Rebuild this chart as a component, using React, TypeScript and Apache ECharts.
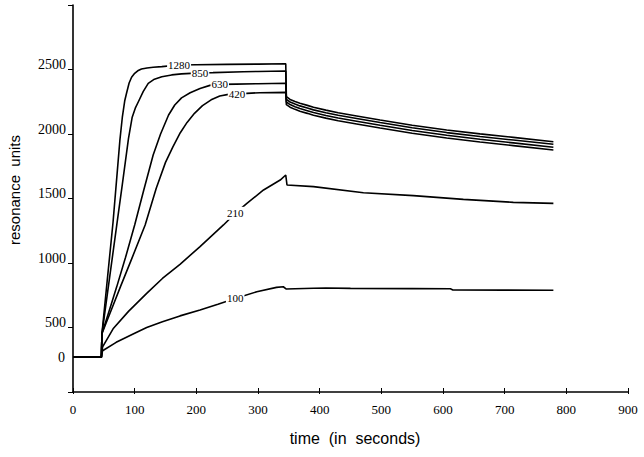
import React, { useEffect, useRef } from 'react';
import * as echarts from 'echarts';

// Baseline (before injection)
const T_BASE = [0, 46];
const V_BASE = [270, 270];

// Association phase
const T_1280 = [47, 55, 65, 72, 76, 80, 84, 87, 91, 95, 100, 105, 111, 120, 130, 144, 172, 200, 250, 300, 345];
const V_1280 = [454, 840, 1320, 1720, 1950, 2130, 2260, 2320, 2395, 2440, 2470, 2490, 2504, 2512, 2518, 2522, 2535, 2537, 2540, 2542, 2544];

const T_850 = [47, 60, 71, 80, 90, 96, 101, 106, 114, 122, 132, 144, 160, 176, 206, 227, 276, 300, 345];
const V_850 = [454, 910, 1295, 1610, 1966, 2130, 2200, 2250, 2330, 2393, 2425, 2444, 2458, 2466, 2474, 2476, 2483, 2485, 2488];

const T_630 = [47, 60, 71, 85, 100, 115, 130, 142, 155, 165, 176, 190, 206, 222, 238, 265, 300, 345];
const V_630 = [454, 650, 817, 1040, 1295, 1570, 1837, 2000, 2147, 2225, 2280, 2320, 2353, 2377, 2385, 2387, 2390, 2393];

const T_420 = [47, 60, 77, 95, 117, 135, 150, 162, 174, 185, 197, 210, 224, 238, 252, 266, 282, 303, 345];
const V_420 = [454, 610, 817, 1030, 1295, 1580, 1780, 1900, 2010, 2090, 2160, 2220, 2265, 2295, 2307, 2310, 2315, 2320, 2323];

// Dissociation phase (shared times) for the four upper curves
const T_DISS = [346, 352, 360, 368, 380, 390, 410, 430, 460, 498, 550, 606, 660, 714, 779];
const D_1280 = [2290, 2268, 2252, 2238, 2222, 2207, 2185, 2165, 2140, 2109, 2068, 2031, 2001, 1974, 1940];
const D_850 = [2268, 2248, 2232, 2218, 2202, 2187, 2165, 2145, 2120, 2089, 2048, 2011, 1981, 1953, 1920];
const D_630 = [2248, 2228, 2212, 2197, 2181, 2166, 2144, 2124, 2099, 2068, 2027, 1990, 1959, 1931, 1897];
const D_420 = [2228, 2208, 2191, 2176, 2160, 2145, 2123, 2103, 2078, 2047, 2006, 1969, 1938, 1910, 1876];

// Lower curves (association + dissociation)
const T_210 = [48, 65, 90, 119.5, 145, 173.5, 206, 244, 263, 282, 309, 336, 345, 347, 390, 471, 552, 633, 714, 779];
const V_210 = [350, 490, 625, 765, 880, 990, 1127, 1295, 1385, 1462, 1566, 1643, 1682, 1605, 1592, 1545, 1522, 1493, 1470, 1462];

const T_100 = [48, 70, 100, 119.5, 145, 173.5, 206, 235, 263, 298, 330, 341, 346, 360, 390, 410, 450, 550, 612, 616, 700, 779];
const V_100 = [320, 385, 455, 500, 545, 590, 636, 680, 725, 777, 811, 816, 798, 800, 804, 806, 803, 801, 800, 791, 790, 789];

// Curve labels (concentrations)
const LABEL_TEXT = ['1280', '850', '630', '420', '210', '100'];
const LABEL_T = [172, 206, 238, 266, 263, 263];
const LABEL_V = [2535, 2474, 2385, 2310, 1385, 725];

// Axes
const X_TICKS = [0, 100, 200, 300, 400, 500, 600, 700, 800, 900];
const Y_LABELS = [500, 1000, 1500, 2000, 2500];

const zip = (t: number[], v: number[]) => t.map((x, i) => [x, v[i]]);

const buildCurve = (ta: number[], va: number[], td: number[] = [], vd: number[] = []) => [
  ...zip(T_BASE, V_BASE),
  ...zip(ta, va),
  ...zip(td, vd),
];

export default function App() {
  const ref = useRef<HTMLDivElement>(null);

  useEffect(() => {
    document.body.style.margin = '0';
    if (!ref.current) return;
    const chart = echarts.init(ref.current, undefined, { renderer: 'svg' });

    const lineStyle = { color: '#000', width: 1.6 };
    const curves = [
      buildCurve(T_1280, V_1280, T_DISS, D_1280),
      buildCurve(T_850, V_850, T_DISS, D_850),
      buildCurve(T_630, V_630, T_DISS, D_630),
      buildCurve(T_420, V_420, T_DISS, D_420),
      buildCurve(T_210, V_210),
      buildCurve(T_100, V_100),
    ];

    const serif = 'Liberation Serif, Times New Roman, serif';
    const sans = 'Liberation Sans, Arial, sans-serif';

    const xBase = {
      type: 'value',
      min: 0,
      max: 900,
      interval: 100,
      splitLine: { show: false },
    };

    chart.setOption({
      animation: false,
      backgroundColor: '#fff',
      grid: { left: 73, right: 16, top: 5, bottom: 65 },
      xAxis: [
        {
          ...xBase,
          position: 'bottom',
          axisLine: { show: true, lineStyle: { color: '#000', width: 1.6 } },
          axisTick: { show: true, inside: true, length: 4, lineStyle: { color: '#000', width: 1 } },
          axisLabel: {
            color: '#000',
            fontFamily: serif,
            fontSize: 13,
            margin: 11,
            formatter: (v: number) => (X_TICKS.includes(v) ? String(v) : ''),
          },
        },
        {
          ...xBase,
          position: 'bottom',
          offset: 0,
          axisLine: { show: false },
          axisTick: { show: true, inside: false, length: 2, lineStyle: { color: '#000', width: 1 } },
          axisLabel: { show: false },
        },
      ],
      yAxis: {
        type: 'value',
        min: 0,
        max: 3000,
        interval: 500,
        axisLine: { show: true, lineStyle: { color: '#000', width: 1.6 } },
        axisTick: { show: true, inside: false, length: 5, lineStyle: { color: '#000', width: 1 } },
        axisLabel: {
          color: '#000',
          fontFamily: serif,
          fontSize: 14,
          margin: 7,
          verticalAlign: 'bottom',
          lineHeight: 10,
          formatter: (v: number) => (Y_LABELS.includes(v) ? String(v) : ''),
        },
        splitLine: { show: false },
      },
      series: curves.map((d, i) => ({
        type: 'line',
        name: LABEL_TEXT[i],
        data: d,
        showSymbol: false,
        symbol: 'none',
        lineStyle,
        itemStyle: { color: '#000' },
        silent: true,
        z: 2,
      })),
    });

    const y0 = chart.convertToPixel({ yAxisIndex: 0 }, V_BASE[0]) as number;
    const curveLabels = LABEL_TEXT.map((txt, i) => {
      const p = chart.convertToPixel({ xAxisIndex: 0, yAxisIndex: 0 }, [LABEL_T[i], LABEL_V[i]]) as number[];
      return {
        type: 'text',
        x: p[0],
        y: p[1],
        z: 100,
        style: {
          text: txt,
          fontFamily: serif,
          fontSize: 11,
          fill: '#000',
          align: 'center',
          verticalAlign: 'middle',
          backgroundColor: '#fff',
          padding: [1, 1],
        },
      };
    });

    chart.setOption({
      graphic: [
        ...curveLabels,
        {
          type: 'text',
          x: 65,
          y: y0,
          style: { text: '0', fontFamily: serif, fontSize: 14, fill: '#000', align: 'right', verticalAlign: 'middle' },
        },
        {
          type: 'text',
          x: 14,
          y: 190,
          rotation: Math.PI / 2,
          style: { text: 'resonance  units', fontFamily: sans, fontSize: 15, fill: '#000', align: 'center', verticalAlign: 'middle' },
        },
        {
          type: 'text',
          x: 355,
          y: 438,
          style: { text: 'time  (in  seconds)', fontFamily: sans, fontSize: 16, fill: '#000', align: 'center', verticalAlign: 'middle' },
        },
      ],
    });

    return () => chart.dispose();
  }, []);

  return <div ref={ref} style={{ width: 644, height: 457 }} />;
}
